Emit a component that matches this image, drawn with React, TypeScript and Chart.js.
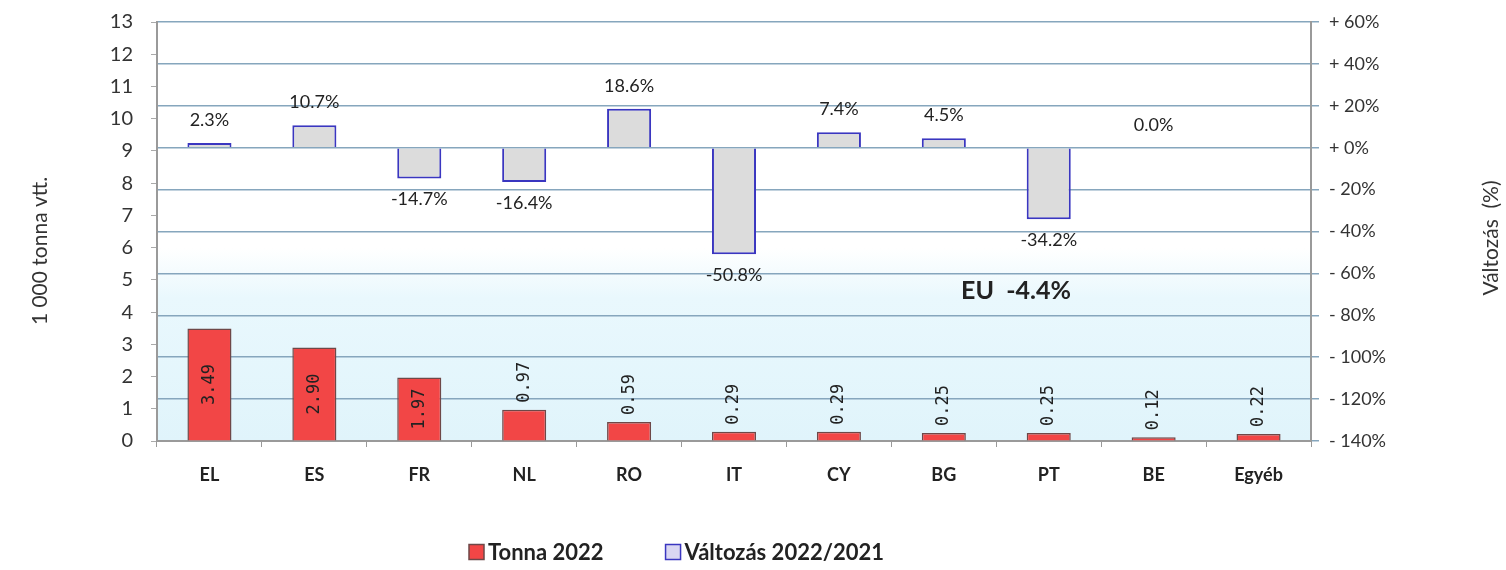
import React, { useEffect, useRef } from "react";
import { Chart, registerables } from "chart.js";

Chart.register(...registerables);

const categories = ["EL", "ES", "FR", "NL", "RO", "IT", "CY", "BG", "PT", "BE", "Egyéb"];
const tonnes2022 = [3.49, 2.9, 1.97, 0.97, 0.59, 0.29, 0.29, 0.25, 0.25, 0.12, 0.22];
const tonnesLabels = ["3.49", "2.90", "1.97", "0.97", "0.59", "0.29", "0.29", "0.25", "0.25", "0.12", "0.22"];
const change2022 = [2.3, 10.7, -14.7, -16.4, 18.6, -50.8, 7.4, 4.5, -34.2, 0.0, null];
const changeLabels = ["2.3%", "10.7%", "-14.7%", "-16.4%", "18.6%", "-50.8%", "7.4%", "4.5%", "-34.2%", "0.0%", ""];
const seriesNames = ["Tonna 2022", "Változás 2022/2021"];
const leftAxisTitle = "1 000 tonna vtt.";
const rightAxisTitle = "Változás  (%)";
const euNote = "EU  -4.4%";

const FONT = 'Lato, "Open Sans", "DejaVu Sans", sans-serif';
const RED = "#f24646";
const RED_BORDER = "#6e4848";
const GREY = "#dcdcdc";
const BLUE_BORDER = "#3a36c0";

const bgPlugin = {
  id: "bgPlugin",
  beforeDraw(chart: any) {
    const { ctx, chartArea: a, width, height } = chart;
    ctx.save();
    ctx.fillStyle = "#ffffff";
    ctx.fillRect(0, 0, width, height);
    const g = ctx.createLinearGradient(0, a.top, 0, a.bottom);
    g.addColorStop(0, "#ffffff");
    g.addColorStop(0.54, "#ffffff");
    g.addColorStop(0.66, "#e9f8fd");
    g.addColorStop(1, "#e0f4fb");
    ctx.fillStyle = g;
    ctx.fillRect(a.left, a.top, a.right - a.left, a.bottom - a.top);
    ctx.restore();
  },
};

const labelsPlugin = {
  id: "labelsPlugin",
  afterDatasetsDraw(chart: any) {
    const { ctx, chartArea: a } = chart;
    ctx.save();
    // tonnes labels (rotated)
    const m0 = chart.getDatasetMeta(0);
    ctx.font = '17px "DejaVu Sans Mono", monospace';
    ctx.fillStyle = "#222";
    m0.data.forEach((el: any, i: number) => {
      const txt = tonnesLabels[i];
      const w = ctx.measureText(txt).width;
      const h = el.base - el.y;
      let cy;
      if (h > w + 14) cy = (el.y + el.base) / 2;
      else cy = el.y - 7 - w / 2;
      ctx.save();
      ctx.translate(el.x, cy);
      ctx.rotate(-Math.PI / 2);
      ctx.textAlign = "center";
      ctx.textBaseline = "middle";
      ctx.fillText(txt, 0, 0);
      ctx.restore();
    });
    // change labels
    const m1 = chart.getDatasetMeta(1);
    ctx.font = "18px " + FONT;
    ctx.fillStyle = "#222";
    ctx.textAlign = "center";
    ctx.textBaseline = "middle";
    m1.data.forEach((el: any, i: number) => {
      const v = change2022[i];
      if (v === null || v === undefined) return;
      const top = Math.min(el.y, el.base);
      const bottom = Math.max(el.y, el.base);
      const cy = v >= 0 ? top - 23 : bottom + 21;
      ctx.fillText(changeLabels[i], el.x, cy);
    });
    // EU note
    ctx.font = "bold 25px " + FONT;
    ctx.fillStyle = "#222";
    ctx.fillText(euNote, a.left + 859, a.top + 269);
    ctx.restore();
  },
  afterDraw(chart: any) {
    const { ctx, chartArea: a } = chart;
    ctx.save();
    // axis titles
    ctx.font = "21px " + FONT;
    ctx.fillStyle = "#333";
    ctx.textAlign = "center";
    ctx.textBaseline = "middle";
    ctx.save();
    ctx.translate(40, a.top + 229);
    ctx.rotate(-Math.PI / 2);
    ctx.fillText(leftAxisTitle, 0, 0);
    ctx.restore();
    ctx.save();
    ctx.translate(a.right + 180, a.top + 216);
    ctx.rotate(-Math.PI / 2);
    ctx.fillText(rightAxisTitle, 0, 0);
    ctx.restore();
    // legend
    ctx.font = "bold 22px " + FONT;
    ctx.textAlign = "left";
    const box = 15;
    const gapText = 4;
    const gapItems = 62;
    const widths = seriesNames.map((s) => ctx.measureText(s).width);
    let x = a.left + 312;
    const y = 552;
    const styles = [
      { fill: RED, stroke: RED_BORDER },
      { fill: "#d9d6f2", stroke: BLUE_BORDER },
    ];
    widths.forEach((w, i) => {
      ctx.fillStyle = styles[i].fill;
      ctx.fillRect(x, y - box / 2, box, box);
      ctx.strokeStyle = styles[i].stroke;
      ctx.lineWidth = 1.5;
      ctx.strokeRect(x, y - box / 2, box, box);
      ctx.fillStyle = "#222";
      ctx.fillText(seriesNames[i], x + box + gapText, y + 1);
      x += box + gapText + w + gapItems;
    });
    ctx.restore();
  },
};

export default function App() {
  const ref = useRef<HTMLCanvasElement | null>(null);
  useEffect(() => {
    if (!ref.current) return;
    const chart = new Chart(ref.current, {
      type: "bar",
      data: {
        labels: categories,
        datasets: [
          {
            label: seriesNames[0],
            data: tonnes2022,
            yAxisID: "y",
            backgroundColor: RED,
            borderColor: RED_BORDER,
            borderWidth: 1.5,
            grouped: false,
            barPercentage: 0.42,
            categoryPercentage: 1,
          },
          {
            label: seriesNames[1],
            data: change2022 as any,
            yAxisID: "y2",
            backgroundColor: GREY,
            borderColor: BLUE_BORDER,
            borderWidth: 2,
            grouped: false,
            barPercentage: 0.42,
            categoryPercentage: 1,
          },
        ],
      },
      options: {
        animation: false,
        responsive: true,
        maintainAspectRatio: false,
        layout: { padding: { top: 22, left: 0, right: 0, bottom: 0 } },
        plugins: {
          legend: { display: false },
          tooltip: { enabled: false },
        },
        scales: {
          x: {
            grid: {
              display: true,
              drawOnChartArea: false,
              drawTicks: true,
              tickLength: 6,
              color: "#999",
              offset: true,
            },
            border: { display: true, color: "#9a9a9a", width: 2 },
            ticks: {
              font: { family: FONT, size: 18, weight: "bold" },
              color: "#222",
              padding: 17,
              maxRotation: 0,
            },
            afterFit(scale: any) {
              scale.height = 129;
              scale.paddingLeft = 0;
              scale.paddingRight = 0;
            },
          },
          y: {
            position: "left",
            min: 0,
            max: 13,
            ticks: {
              stepSize: 1,
              font: { family: FONT, size: 20 },
              color: "#333",
              padding: 18,
            },
            grid: { drawOnChartArea: false, tickLength: 6, color: "#aaa" },
            border: { display: true, color: "#9a9a9a", width: 2 },
            afterFit(scale: any) {
              scale.width = 157;
              scale.paddingTop = 0;
              scale.paddingBottom = 0;
            },
          },
          y2: {
            position: "right",
            min: -140,
            max: 60,
            ticks: {
              stepSize: 20,
              font: { family: FONT, size: 18 },
              color: "#333",
              padding: 10,
              callback: (v: any) => (Number(v) >= 0 ? "+ " : "- ") + Math.abs(Number(v)) + "%",
            },
            grid: { drawOnChartArea: true, tickLength: 8, color: "#86a6bd", lineWidth: 1.5 },
            border: { display: true, color: "#9a9a9a", width: 2 },
            afterFit(scale: any) {
              scale.width = 195;
              scale.paddingTop = 0;
              scale.paddingBottom = 0;
            },
          },
        },
      },
      plugins: [bgPlugin, labelsPlugin],
    } as any);
    return () => chart.destroy();
  }, []);
  return (
    <div style={{ position: "fixed", left: 0, top: 0, width: 1506, height: 570, background: "#fff" }}>
      <canvas ref={ref} style={{ width: "100%", height: "100%" }} />
    </div>
  );
}
